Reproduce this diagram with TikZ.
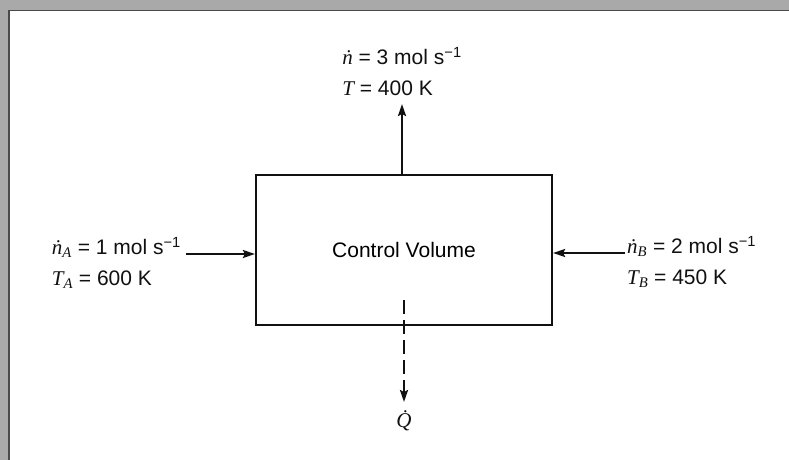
\documentclass[tikz,border=0pt]{standalone}
\usepackage{amsmath}
\usepackage{fontspec}
\setmainfont{Liberation Sans}
\newfontfamily\symfont{Liberation Serif}
\newcommand{\sym}[1]{\text{\symfont\itshape #1}}
\usepackage{tikz}
\usetikzlibrary{positioning,arrows.meta}
\definecolor{ink}  {HTML}{111111}
\definecolor{frame}{HTML}{A9A9A9}
\definecolor{edge} {HTML}{4A4A4A}

\begin{document}
\begin{tikzpicture}[
  x=1pt, y=-1pt,
  font=\fontsize{21}{31}\selectfont,
  cv/.style={draw=ink, line width=2.2pt, minimum width=296pt, minimum height=150pt,
             inner sep=0pt},
  lab/.style={align=left, inner sep=0pt, text=ink},
  flow/.style={draw=ink, line width=2.2pt, -{Stealth[length=12pt, width=8pt, inset=2pt]}},
  heat/.style={flow, dash pattern=on 14pt off 6pt}
]
\useasboundingbox (0,0) rectangle (789,460);
\fill[white] (0,0) rectangle (789,460);
\fill[frame] (0,0) rectangle (789,10);
\fill[frame] (0,0) rectangle (8,460);
\draw[edge, line width=1.5pt] (8.75,460) |- (789,10.75);

\node[cv] (cv) at (404,250) {Control Volume};

% outlet on top
\coordinate (outtip) at (402,104);
\draw[flow] (cv.north -| outtip) -- (outtip);
\node[lab, above=8pt of outtip] (outlab) {$\sym{ṅ}$ = 3 mol s\textsuperscript{−1}\\$\sym{T}$ = 400 K};

% inlet A from the left
\coordinate (ina) at (186,254);
\draw[flow] (ina) -- (ina -| cv.west);
\node[lab, left=5pt of ina, yshift=-9pt] (labA) {$\sym{ṅ}_{\sym{A}}$ = 1 mol s\textsuperscript{−1}\\$\sym{T}_{\sym{A}}$ = 600 K};

% inlet B from the right
\coordinate (inb) at (625,253);
\draw[flow] (inb) -- (inb -| cv.east);
\node[lab, right=2pt of inb, yshift=-9pt] (labB) {$\sym{ṅ}_{\sym{B}}$ = 2 mol s\textsuperscript{−1}\\$\sym{T}_{\sym{B}}$ = 450 K};

% heat leaving through the bottom
\coordinate (qstart) at (404,300);
\coordinate (qtip) at (404,402);
\draw[heat] (qstart) -- (qtip);
\node[lab, below=8pt of qtip] (qdot) {\symfont\itshape Q̇};
\end{tikzpicture}
\end{document}
